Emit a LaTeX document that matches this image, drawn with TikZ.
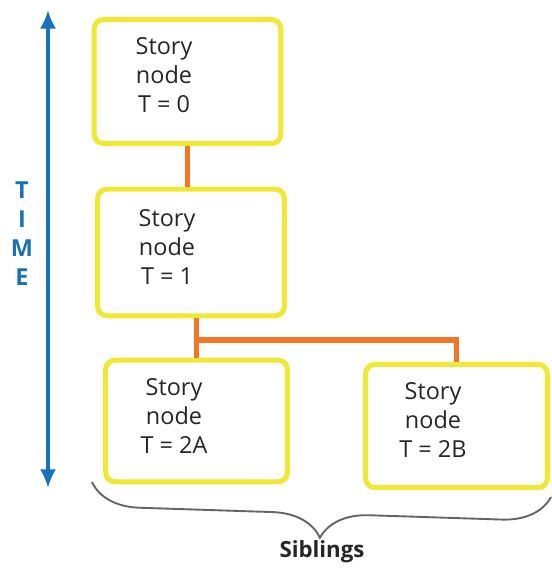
\documentclass[tikz,border=0pt]{standalone}
\usepackage{fontspec}
\setmainfont{Open Sans}
\usepackage{tikz}
\usetikzlibrary{decorations.pathreplacing}
\usetikzlibrary{arrows.meta,arrows}
\usetikzlibrary{positioning}
\tikzset{>=latex}
\definecolor{boxyellow}{RGB}{240,232,52}
\definecolor{linkorange}{RGB}{243,118,36}
\definecolor{timeblue}{RGB}{24,114,190}
\definecolor{bracegray}{RGB}{100,100,100}
\tikzset{
  storybox/.style={draw=boxyellow,line width=4.3pt,rounded corners=8pt,fill=white},
  storytext/.style={align=center,font=\fontsize{20}{24.7}\selectfont,text=black!85},
  link/.style={draw=linkorange,line width=4.3pt}
}

\begin{document}
\begin{tikzpicture}[x=0.03cm,y=-0.03cm]
\useasboundingbox (0,0) rectangle (551,570);

% Time axis
\coordinate (ttop) at (48,10);
\coordinate (tbot) at (48,488);
\draw[timeblue,line width=3.4pt,{Latex[length=16pt,width=14pt]}-{Latex[length=16pt,width=14pt]}] (ttop)--(tbot);
\node[timeblue,align=center,font=\fontsize{20}{24.7}\selectfont\bfseries] (time) at (22,234) {T\\I\\M\\E};

% Story nodes
\node[storybox,minimum width=5.6cm,minimum height=3.72cm] (n0) at (187.5,81.5) {};
\node[storybox,minimum width=5.6cm,minimum height=3.8cm] (n1) at (191,252.5) {};
\node[storybox,minimum width=5.45cm,minimum height=3.65cm] (n2a) at (196.5,421) {};
\node[storybox,minimum width=5.45cm,minimum height=3.7cm] (n2b) at (456.5,426) {};

\node[storytext] (t0) at (164,75) {Story\\node\\T = 0};
\node[storytext] (t1) at (167,247) {Story\\node\\T = 1};
\node[storytext] (t2a) at (174,416) {Story\\node\\T = 2A};
\node[storytext] (t2b) at (433,420) {Story\\node\\T = 2B};

% Links
\draw[link] (n0.south) -- (n0.south |- n1.north);
\draw[link] (n2a.north |- n1.south) -- (n2a.north);
\coordinate (fork) at (196.5,340);
\draw[link] (fork) -| (n2b.north);

% Brace
\draw[bracegray,line width=1.6pt,decorate,decoration={brace,amplitude=1.45cm,mirror}] (92,482) -- (551,497);
\node[font=\fontsize{19}{20}\selectfont\bfseries,text=black!85] (sib) at (322,552) {Siblings};

\end{tikzpicture}
\end{document}
